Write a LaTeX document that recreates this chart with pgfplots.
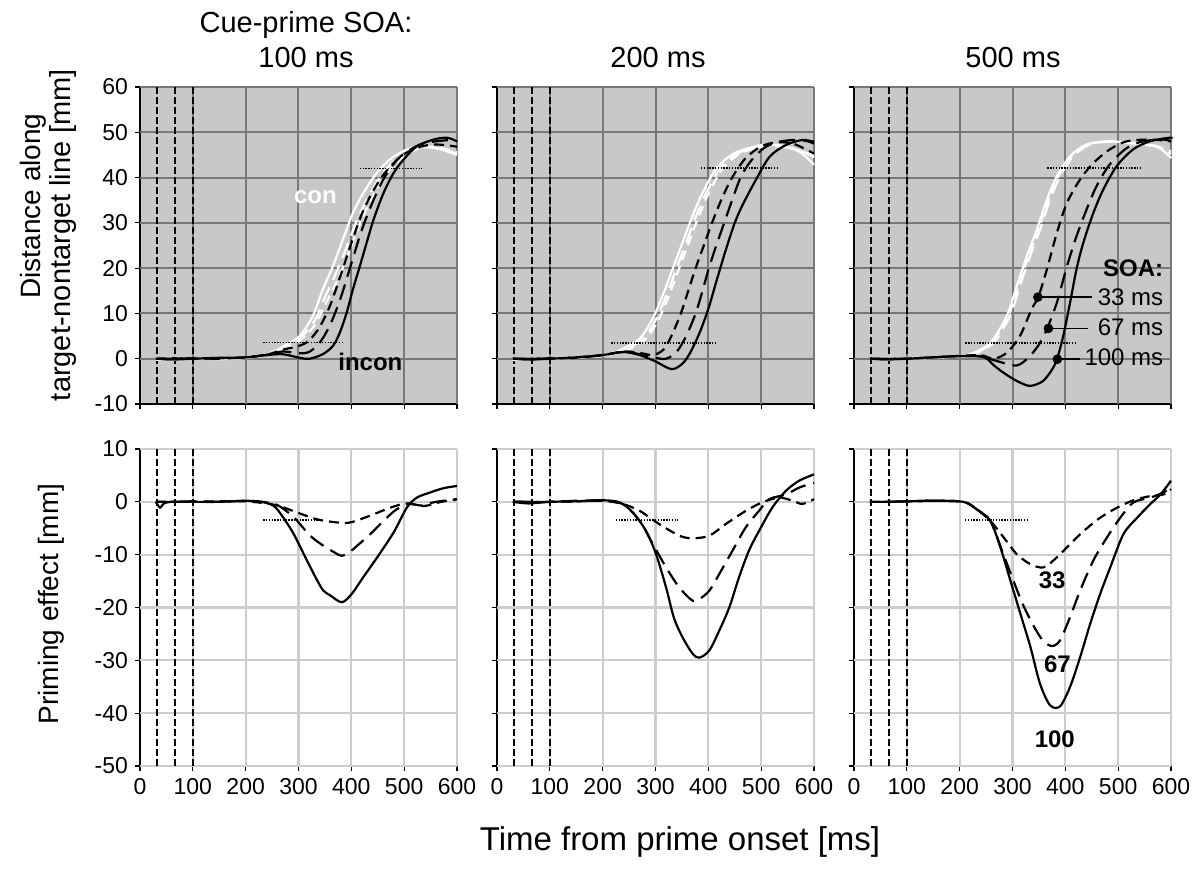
\documentclass[border=0pt]{standalone}
\usepackage{fontspec}
\setmainfont{Liberation Sans}
\usepackage{pgfplots}
\pgfplotsset{compat=1.18}
\definecolor{bgtop}{RGB}{200,200,200}
\definecolor{gridtop}{RGB}{120,120,120}
\definecolor{gridbot}{RGB}{205,205,205}
\pgfplotsset{
  panel/.style={
    scale only axis, width=158.5pt, height=158.5pt,
    xmin=0, xmax=600, xtick={0,100,...,600},
    axis x line*=bottom, axis y line*=left,
    tick align=outside, major tick length=2.5pt,
    tick style={black, line width=0.6pt},
    axis line style={black, line width=0.8pt},
    clip=false,
    /pgf/number format/assume math mode=true,
    ticklabel style={font=\fontsize{11.5}{12}\selectfont},
    anchor=south west,
  },
  toppanel/.style={panel, ymin=-10, ymax=60, ytick={-10,0,...,60},
    axis background/.style={fill=bgtop},
    xticklabels={}},
  botpanel/.style={panel, ymin=-50, ymax=10, ytick={-50,-40,...,10}},
  gtop/.style={color=gridtop, solid, line width=1pt, forget plot},
  gbot/.style={color=gridbot, solid, line width=1.1pt, forget plot},
  vdash/.style={black, line width=1pt, dash pattern=on 3.5pt off 1.5pt},
  dotl/.style={black, line width=0.9pt, dash pattern=on 0.7pt off 0.7pt},
  cs/.style={line width=1.1pt, smooth, tension=0.5},
  s100/.style={cs, solid},
  s67/.style={cs, dash pattern=on 8pt off 4pt},
  s33/.style={cs, dash pattern=on 5pt off 3pt},
}
\newcommand{\topgrid}{%
  \addplot[gtop] coordinates {(100,-10)(100,60)};
  \addplot[gtop] coordinates {(200,-10)(200,60)};
  \addplot[gtop] coordinates {(300,-10)(300,60)};
  \addplot[gtop] coordinates {(400,-10)(400,60)};
  \addplot[gtop] coordinates {(500,-10)(500,60)};
  \addplot[gtop] coordinates {(600,-10)(600,60)};
  \addplot[gtop] coordinates {(0,0)(600,0)};
  \addplot[gtop] coordinates {(0,10)(600,10)};
  \addplot[gtop] coordinates {(0,20)(600,20)};
  \addplot[gtop] coordinates {(0,30)(600,30)};
  \addplot[gtop] coordinates {(0,40)(600,40)};
  \addplot[gtop] coordinates {(0,50)(600,50)};
  \addplot[gtop] coordinates {(0,60)(600,60)};
  \addplot[vdash] coordinates {(33,-10)(33,60)};
  \addplot[vdash] coordinates {(67,-10)(67,60)};
  \addplot[vdash] coordinates {(100,-10)(100,60)};
}
\newcommand{\botgrid}{%
  \addplot[gbot] coordinates {(100,-50)(100,10)};
  \addplot[gbot] coordinates {(200,-50)(200,10)};
  \addplot[gbot] coordinates {(300,-50)(300,10)};
  \addplot[gbot] coordinates {(400,-50)(400,10)};
  \addplot[gbot] coordinates {(500,-50)(500,10)};
  \addplot[gbot] coordinates {(600,-50)(600,10)};
  \addplot[gbot] coordinates {(0,-50)(600,-50)};
  \addplot[gbot] coordinates {(0,-40)(600,-40)};
  \addplot[gbot] coordinates {(0,-30)(600,-30)};
  \addplot[gbot] coordinates {(0,-20)(600,-20)};
  \addplot[gbot] coordinates {(0,-10)(600,-10)};
  \addplot[gbot] coordinates {(0,0)(600,0)};
  \addplot[gbot] coordinates {(0,10)(600,10)};
  \addplot[vdash] coordinates {(33,-50)(33,10)};
  \addplot[vdash] coordinates {(67,-50)(67,10)};
  \addplot[vdash] coordinates {(100,-50)(100,10)};
}
\begin{document}
\begin{tikzpicture}
\path[use as bounding box] (0,0) rectangle (602pt,437.5pt);

% ---------------- TOP ROW ----------------
% panel 1
\begin{axis}[toppanel, at={(70pt,235.5pt)}]
\topgrid
\addplot[s100, white] coordinates {(30,-0.2)(60,-0.3)(100,0.1)(150,-0.1)(200,0.2)(240,1.0)(270,2.6)(302,5)(327,9.4)(346,15.3)(365,20.4)(384,26.3)(403,32.2)(423,36.6)(448,41)(473,44)(505,46.2)(537,46.9)(570,46.2)(600,45)};
\addplot[s67, white] coordinates {(30,0)(60,-0.2)(100,0)(150,0.1)(200,0.3)(240,0.9)(270,2.2)(300,4.2)(330,8.3)(350,13.6)(370,18.6)(390,24.3)(410,30.4)(430,35.3)(455,40.2)(480,43.6)(510,45.9)(540,46.7)(570,46.3)(600,45.3)};
\addplot[s33, white] coordinates {(30,0.1)(60,0)(100,0)(150,0)(200,0.2)(240,0.8)(270,2.0)(300,3.8)(330,7.3)(355,13)(375,17.7)(395,23.3)(415,29.5)(435,34.6)(460,39.8)(485,43.3)(515,45.8)(545,46.8)(575,46.4)(600,45.6)};
\addplot[s33, black] coordinates {(30,0)(60,0.1)(100,0)(150,0.1)(200,0.3)(240,0.9)(270,2)(300,2.8)(320,4)(340,7)(360,11.8)(380,18.5)(400,25.5)(420,32)(440,36.8)(460,40.5)(480,43.2)(500,45.2)(530,46.8)(560,47.3)(590,47)(600,46.8)};
\addplot[s67, black] coordinates {(30,0)(60,0)(100,0.1)(150,0)(200,0.3)(240,0.9)(270,1.6)(300,1.2)(320,1.5)(340,3.5)(360,7.5)(380,13.5)(400,21)(420,28.5)(440,34.5)(460,39.5)(480,43)(500,45.3)(530,47.3)(560,48)(590,48.3)(600,48)};
\addplot[s100, black] coordinates {(30,0)(60,-0.2)(100,0)(150,0.2)(200,0.3)(240,0.8)(270,1)(302,0.2)(321,0)(346,1)(365,2.8)(378,5.7)(391,10.1)(403,15.3)(416,20.4)(429,25.6)(442,30.7)(461,36.6)(480,41)(499,44)(524,46.9)(556,48.4)(581,48.8)(600,48)};
\addplot[dotl] coordinates {(233,3.6)(384,3.6)};
\addplot[dotl] coordinates {(416,42)(534,42)};
\node[white, font=\bfseries\fontsize{12}{12}\selectfont] at (axis cs:332,35.7) {con};
\node[black, font=\bfseries\fontsize{12}{12}\selectfont] at (axis cs:436,-0.7) {incon};
\end{axis}

% panel 2
\begin{axis}[toppanel, at={(248.5pt,235.5pt)}, yticklabels={}]
\topgrid
\addplot[s100, white] coordinates {(30,-0.3)(60,0)(100,0)(150,0.3)(200,0.8)(231,1.8)(269,4.3)(294,8.7)(313,13.8)(332,19.7)(351,25.6)(370,31.5)(389,36.6)(414,41.8)(445,45.1)(477,46.5)(508,47.3)(546,46.9)(571,45.8)(590,44)(600,42.8)};
\addplot[s67, white] coordinates {(30,0)(60,-0.2)(100,0.1)(150,0.3)(200,0.7)(238,1.8)(276,4.3)(301,8.7)(320,13.8)(339,19.7)(358,25.6)(377,31.5)(396,36.6)(421,41.8)(452,45.1)(484,46.5)(515,47.1)(550,46.6)(575,45.8)(600,45)};
\addplot[s33, white] coordinates {(30,0)(60,0)(100,0)(150,0.2)(200,0.7)(243,1.8)(281,4.3)(306,8.7)(325,13.8)(344,19.7)(363,25.6)(382,31.5)(401,36.6)(426,41.8)(457,45.1)(489,46.5)(520,47)(555,46.5)(580,45.6)(600,44.5)};
\addplot[s33, black] coordinates {(30,0)(60,0)(100,0)(150,0.3)(200,0.8)(240,1.6)(270,1.3)(295,0.8)(315,2)(330,5)(348,10)(362,15)(376,20)(392,25.2)(407,30)(425,35.2)(445,40)(470,44.2)(500,46.9)(530,47.8)(560,47.5)(585,46.2)(600,45.3)};
\addplot[s67, black] coordinates {(30,0)(60,0)(100,0.1)(150,0.2)(200,0.8)(240,1.5)(270,1)(300,0.2)(320,0)(340,1.5)(358,5)(376,10)(389,15)(401,20)(415,25)(430,30)(445,35)(461,40)(480,43.6)(505,46.5)(530,47.8)(560,48.3)(585,48.1)(600,47.5)};
\addplot[s100, black] coordinates {(30,0)(60,-0.2)(100,0)(150,0.3)(200,0.8)(238,1.5)(270,0.8)(300,-0.6)(330,-2.3)(350,-1.2)(365,1.2)(383,5.6)(400,11)(415,17)(433,24)(450,30)(465,34)(490,39.5)(516,44.6)(547,47.2)(578,48.3)(600,47.9)};
\addplot[dotl] coordinates {(216,3.5)(414,3.5)};
\addplot[dotl] coordinates {(386,42.2)(530,42.2)};
\end{axis}

% panel 3
\begin{axis}[toppanel, at={(427pt,235.5pt)}, yticklabels={}]
\topgrid
\addplot[s100, white] coordinates {(30,0)(60,-0.3)(100,0.1)(150,0.3)(190,0.6)(220,1)(258,3.5)(289,9.4)(308,16)(327,22.6)(346,28.5)(365,35.1)(384,40.3)(409,44.7)(440,47.3)(478,48)(528,47.6)(572,46.9)(597,44.7)(600,44.3)};
\addplot[s67, white] coordinates {(30,0)(60,0)(100,0)(150,0.2)(190,0.5)(226,1)(264,3.5)(295,9.4)(314,16)(333,22.6)(352,28.5)(371,35.1)(390,40.3)(415,44.7)(446,47.3)(484,47.9)(530,47.5)(575,46.8)(600,45.8)};
\addplot[s33, white] coordinates {(30,0)(60,0.1)(100,0)(150,0.2)(190,0.5)(223,1)(261,3.5)(292,9.4)(311,16)(330,22.6)(349,28.5)(368,35.1)(387,40.3)(412,44.7)(443,47.3)(481,48)(530,47.6)(575,46.9)(600,45.2)};
\addplot[s33, black] coordinates {(30,0)(60,0)(100,0)(150,0.3)(200,0.6)(240,0.8)(264,0)(289,1.3)(314,5)(336,10.9)(349,13.7)(365,19.7)(384,27.8)(403,34.4)(428,39.6)(453,43.2)(484,46.2)(516,48)(560,48.4)(600,48)};
\addplot[s67, black] coordinates {(30,0)(60,0)(100,0)(150,0.3)(200,0.6)(240,0.5)(270,-0.5)(308,-1.5)(333,0.6)(352,3.5)(366,6.8)(384,12.4)(403,20.4)(421,27)(440,32.9)(459,38.1)(484,42.9)(516,46.5)(547,48)(585,48.4)(600,48)};
\addplot[s100, black] coordinates {(30,0)(60,-0.2)(100,0)(150,0.3)(200,0.6)(245,0.4)(265,-1.5)(283,-3.1)(308,-4.9)(333,-6)(358,-4.9)(377,-2)(385,0.2)(396,5)(409,12.4)(421,19.7)(434,25.6)(453,32.2)(472,37.4)(497,42.5)(528,46.2)(560,48)(597,48.8)(600,48.6)};
\addplot[dotl] coordinates {(211,3.4)(420,3.4)};
\addplot[dotl] coordinates {(366,42.2)(541,42.2)};
% SOA legend
\addplot[black, line width=0.8pt] coordinates {(348,13.6)(450,13.6)};
\addplot[black, line width=0.8pt] coordinates {(368,6.7)(443,6.7)};
\addplot[black, line width=0.8pt] coordinates {(385,-0.1)(428,-0.1)};
\addplot[only marks, mark=*, mark size=2.2pt, black] coordinates {(348,13.6)(368,6.7)(385,-0.1)};
\node[anchor=east, inner sep=0pt, font=\bfseries\fontsize{12}{12}\selectfont] at (axis cs:586,20) {SOA:};
\node[anchor=east, inner sep=0pt, font=\fontsize{12}{12}\selectfont] at (axis cs:586,13.6) {33 ms};
\node[anchor=east, inner sep=0pt, font=\fontsize{12}{12}\selectfont] at (axis cs:586,7.0) {67 ms};
\node[anchor=east, inner sep=0pt, font=\fontsize{12}{12}\selectfont] at (axis cs:586,0.4) {100 ms};
\end{axis}

% ---------------- BOTTOM ROW ----------------
\begin{axis}[botpanel, at={(70pt,54.5pt)}]
\botgrid
\addplot[s33, black] coordinates {(30,0)(60,0)(100,0)(150,0.1)(200,0.1)(246,-0.4)(270,-1)(297,-2)(335,-3.3)(373,-3.9)(398,-3.9)(436,-2.6)(474,-1.1)(505,-0.3)(537,-0.8)(570,0)(600,0.5)};
\addplot[s67, black] coordinates {(30,0)(60,0)(100,0.1)(150,0)(200,0.2)(240,-0.1)(260,-0.6)(290,-2.8)(322,-6.4)(347,-8.3)(365,-9.4)(382,-10.2)(398,-9.4)(411,-8.3)(436,-6.1)(461,-3.6)(486,-1.4)(512,-0.4)(531,-0.7)(560,0)(600,0.5)};
\addplot[s100, black] coordinates {(30,0)(38,-1.1)(45,-0.3)(60,0)(100,0)(150,0)(200,0.2)(230,0)(253,-0.75)(270,-2.8)(291,-6.1)(316,-11.1)(335,-14.8)(347,-16.8)(360,-17.7)(382,-19)(401,-17.4)(423,-14.2)(449,-10.5)(480,-5.8)(505,-1.1)(524,0.8)(550,1.8)(575,2.6)(600,3)};
\addplot[dotl] coordinates {(233,-3.4)(341,-3.4)};
\end{axis}

\begin{axis}[botpanel, at={(248.5pt,54.5pt)}, yticklabels={}]
\botgrid
\addplot[s33, black] coordinates {(30,0)(60,0)(100,0)(150,0.1)(200,0.2)(238,-0.4)(270,-1.7)(307,-4.2)(345,-6.4)(370,-6.9)(402,-6.4)(433,-4.2)(471,-1.7)(502,-0.1)(534,0.8)(560,0.2)(578,-0.4)(600,0.5)};
\addplot[s67, black] coordinates {(30,0)(60,0)(100,0)(150,0.2)(200,0.2)(238,-0.4)(270,-3.6)(295,-8)(320,-12.4)(345,-16.2)(370,-18.7)(383,-18.4)(402,-16.8)(421,-13.6)(446,-9.2)(471,-4.8)(496,-1.7)(515,0.5)(547,1.4)(572,2.7)(600,3.6)};
\addplot[s100, black] coordinates {(30,0)(60,-0.3)(100,0)(150,0.1)(200,0.3)(232,-0.1)(257,-2)(282,-5.5)(301,-9.9)(320,-16.2)(335,-22)(351,-25.6)(370,-28.7)(383,-29.5)(402,-28.1)(421,-24.3)(440,-19.9)(458,-14.3)(477,-9.2)(496,-5.5)(521,-1.1)(547,2.1)(572,4)(600,5.2)};
\addplot[dotl] coordinates {(225,-3.4)(343,-3.4)};
\end{axis}

\begin{axis}[botpanel, at={(427pt,54.5pt)}, yticklabels={}]
\botgrid
\addplot[s33, black] coordinates {(30,0)(60,0)(100,0.1)(150,0.2)(207,0)(232,-1.4)(258,-3.6)(283,-6.7)(308,-9.9)(334,-11.8)(359,-12.4)(384,-10.5)(409,-8)(435,-5.5)(466,-3)(498,-1.1)(529,0.3)(561,1.1)(586,1.4)(600,2.4)};
\addplot[s67, black] coordinates {(30,0)(60,0)(100,0.1)(150,0.2)(207,0)(232,-1.4)(258,-3.6)(283,-10)(302,-15)(320,-19.5)(340,-23.5)(358,-26.3)(375,-27.3)(390,-26.2)(409,-21.8)(428,-16.8)(453,-11.1)(479,-6.7)(504,-3)(529,-0.1)(561,0.8)(586,1.8)(600,2.7)};
\addplot[s100, black] coordinates {(30,0)(60,0)(100,0.1)(150,0.2)(207,0)(232,-1.4)(258,-3.6)(277,-8.6)(296,-14.9)(315,-21.2)(334,-27.5)(352,-34.4)(371,-38.5)(390,-38.7)(409,-35)(428,-29.4)(447,-23.1)(466,-17.4)(485,-12.4)(510,-6.1)(536,-3)(561,-0.4)(580,1.4)(600,4)};
\addplot[dotl] coordinates {(210,-3.4)(327,-3.4)};
\node[font=\bfseries\fontsize{12}{12}\selectfont] at (axis cs:375,-14.9) {33};
\node[font=\bfseries\fontsize{12}{12}\selectfont] at (axis cs:385,-30.8) {67};
\node[font=\bfseries\fontsize{12}{12}\selectfont] at (axis cs:380,-45) {100};
\end{axis}

% ---------------- TEXT ----------------
\node[anchor=base, font=\fontsize{14.5}{14.5}\selectfont] at (153pt,421pt) {Cue-prime SOA:};
\node[anchor=base, font=\fontsize{14.5}{14.5}\selectfont] at (153pt,403.5pt) {100 ms};
\node[anchor=base, font=\fontsize{14.5}{14.5}\selectfont] at (329pt,403.5pt) {200 ms};
\node[anchor=base, font=\fontsize{14.5}{14.5}\selectfont] at (506.5pt,403.5pt) {500 ms};
\node[anchor=base, rotate=90, font=\fontsize{14}{14}\selectfont] at (20pt,334.5pt) {Distance along};
\node[anchor=base, rotate=90, font=\fontsize{14.5}{14.5}\selectfont] at (35pt,320pt) {target-nontarget line [mm]};
\node[anchor=base, rotate=90, font=\fontsize{14}{14}\selectfont] at (29pt,135.5pt) {Priming effect [mm]};
\node[anchor=base, font=\fontsize{16.5}{16.5}\selectfont] at (340pt,12.5pt) {Time from prime onset [ms]};
\end{tikzpicture}
\end{document}
